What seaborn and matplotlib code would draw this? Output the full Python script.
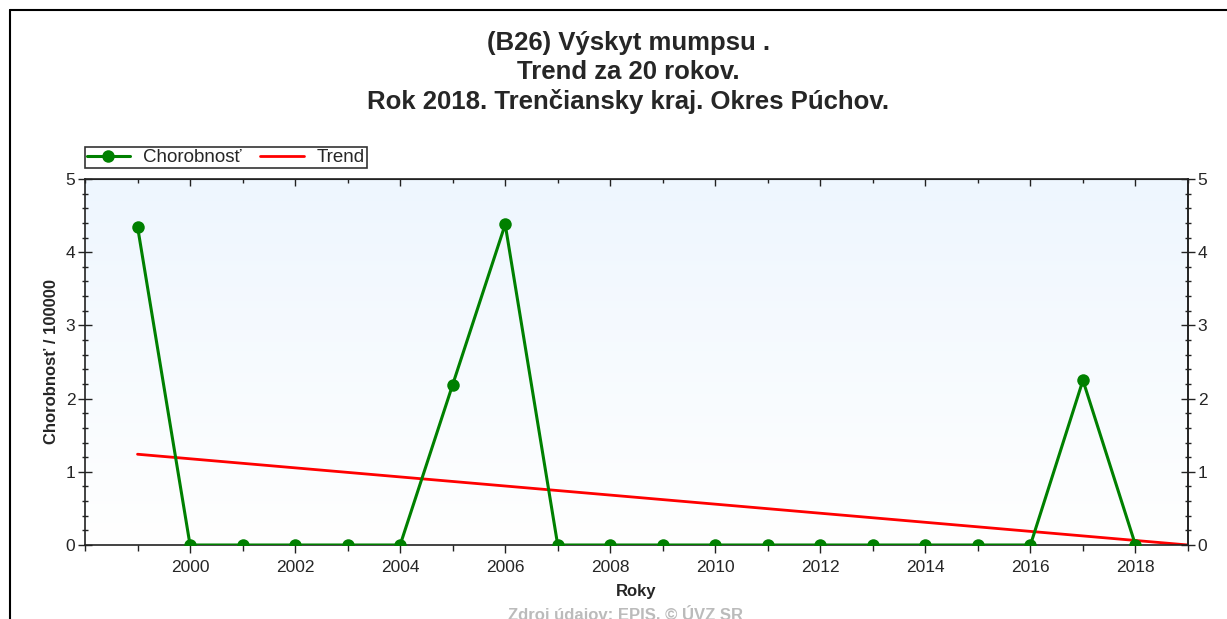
import numpy as np
import pandas as pd
import matplotlib
matplotlib.use('Agg')
import matplotlib.pyplot as plt
import seaborn as sns
from matplotlib.colors import LinearSegmentedColormap
from matplotlib.ticker import MultipleLocator

# Data
years = [1999, 2000, 2001, 2002, 2003, 2004, 2005, 2006, 2007, 2008,
         2009, 2010, 2011, 2012, 2013, 2014, 2015, 2016, 2017, 2018]
chorobnost = [4.35, 0, 0, 0, 0, 0, 2.19, 4.38, 0, 0,
              0, 0, 0, 0, 0, 0, 0, 0, 2.25, 0]
trend_years = [1999, 2019]
trend_values = [1.24, 0.0]
xticks = [2000, 2002, 2004, 2006, 2008, 2010, 2012, 2014, 2016, 2018]

df = pd.DataFrame({'Rok': years, 'Chorobnost': chorobnost})
trend_df = pd.DataFrame({'Rok': trend_years, 'Trend': trend_values})

sns.set_style('ticks')
plt.rcParams['font.family'] = ['Liberation Sans', 'DejaVu Sans']

fig = plt.figure(figsize=(12.27, 6.19), dpi=100)
ax = fig.add_axes([85 / 1227, 1 - 545 / 619, 1103 / 1227, 366 / 619])

# light blue gradient background
cmap = LinearSegmentedColormap.from_list('bg', ['#ffffff', '#eef6fe'])
grad = np.linspace(0, 1, 256).reshape(-1, 1)
ax.imshow(grad, extent=[1998, 2019, 0, 5], aspect='auto', cmap=cmap,
          origin='lower', zorder=0)

sns.lineplot(data=trend_df, x='Rok', y='Trend', ax=ax, color='#ff0000',
             linewidth=2, label='Trend', zorder=2)
sns.lineplot(data=df, x='Rok', y='Chorobnost', ax=ax, color='#008000',
             linewidth=2.2, marker='o', markersize=9, markeredgewidth=0,
             label='Chorobnosť', zorder=3)

ax.set_xlim(1998, 2019)
ax.set_ylim(0, 5)
ax.set_xticks(xticks)
ax.xaxis.set_minor_locator(MultipleLocator(1))
ax.yaxis.set_major_locator(MultipleLocator(1))
ax.yaxis.set_minor_locator(MultipleLocator(0.2))
ax.tick_params(axis='x', which='major', direction='out', length=6, width=1,
               labelsize=12.5, color='#222222', pad=5)
ax.tick_params(axis='x', which='minor', direction='out', length=4, width=1,
               color='#222222')
ax.tick_params(axis='y', which='major', direction='inout', length=10,
               width=1, labelsize=12.5, color='#222222', pad=2)
ax.tick_params(axis='y', which='minor', direction='inout', length=5,
               width=1, color='#222222')
for s in ['left', 'bottom', 'right', 'top']:
    ax.spines[s].set_color('#222222')
    ax.spines[s].set_linewidth(1.2)

# inward ticks along the top edge
top = ax.secondary_xaxis('top')
top.set_xticks(xticks)
top.set_xticklabels([])
top.xaxis.set_minor_locator(MultipleLocator(1))
top.tick_params(which='major', direction='in', length=5, width=1,
                color='#222222')
top.tick_params(which='minor', direction='in', length=3, width=1,
                color='#222222')
top.spines['top'].set_color('#222222')

ax.set_xlabel('Roky', fontsize=12, fontweight='bold', labelpad=6)
ax.set_ylabel('Chorobnosť / 100000', fontsize=12, fontweight='bold',
              labelpad=5)

ax2 = ax.twinx()
ax2.set_ylim(0, 5)
ax2.yaxis.set_major_locator(MultipleLocator(1))
ax2.yaxis.set_minor_locator(MultipleLocator(0.2))
ax2.tick_params(axis='y', which='major', direction='inout', length=10,
                width=1, labelsize=12.5, color='#222222', pad=2)
ax2.tick_params(axis='y', which='minor', direction='inout', length=5,
                width=1, color='#222222')
ax2.spines['right'].set_color('#222222')
ax2.spines['right'].set_linewidth(1.2)
for s in ['top', 'left', 'bottom']:
    ax2.spines[s].set_visible(False)

# legend above the plot, in Chorobnosť / Trend order
handles, labels = ax.get_legend_handles_labels()
order = [labels.index('Chorobnosť'), labels.index('Trend')]
leg = ax.legend([handles[i] for i in order], [labels[i] for i in order],
                ncol=2, loc='lower left', bbox_to_anchor=(0, 1.03),
                frameon=True, fancybox=False, fontsize=13.5,
                borderpad=0.1, handlelength=2.3, handletextpad=0.7,
                columnspacing=1.0, borderaxespad=0)
leg.get_frame().set_edgecolor('#000000')
leg.get_frame().set_linewidth(1.2)

fig.text(0.512, 1 - 31 / 619, '(B26) Výskyt mumpsu .\nTrend za 20 rokov.\n'
         'Rok 2018. Trenčiansky kraj. Okres Púchov.', ha='center', va='top',
         fontsize=18.5, fontweight='bold', linespacing=1.26)
fig.text(0.51, 1 - 605 / 619, 'Zdroj údajov: EPIS, © ÚVZ SR', ha='center',
         va='top', fontsize=12, fontweight='bold', color='#bbbbbb')

# outer frame
fig.add_artist(plt.Line2D([10 / 1227, 10 / 1227], [0, 1 - 10 / 619],
                          transform=fig.transFigure, color='#000000', lw=1.5))
fig.add_artist(plt.Line2D([10 / 1227, 1], [1 - 10 / 619, 1 - 10 / 619],
                          transform=fig.transFigure, color='#000000', lw=1.5))

plt.savefig('out.png', dpi=100)
